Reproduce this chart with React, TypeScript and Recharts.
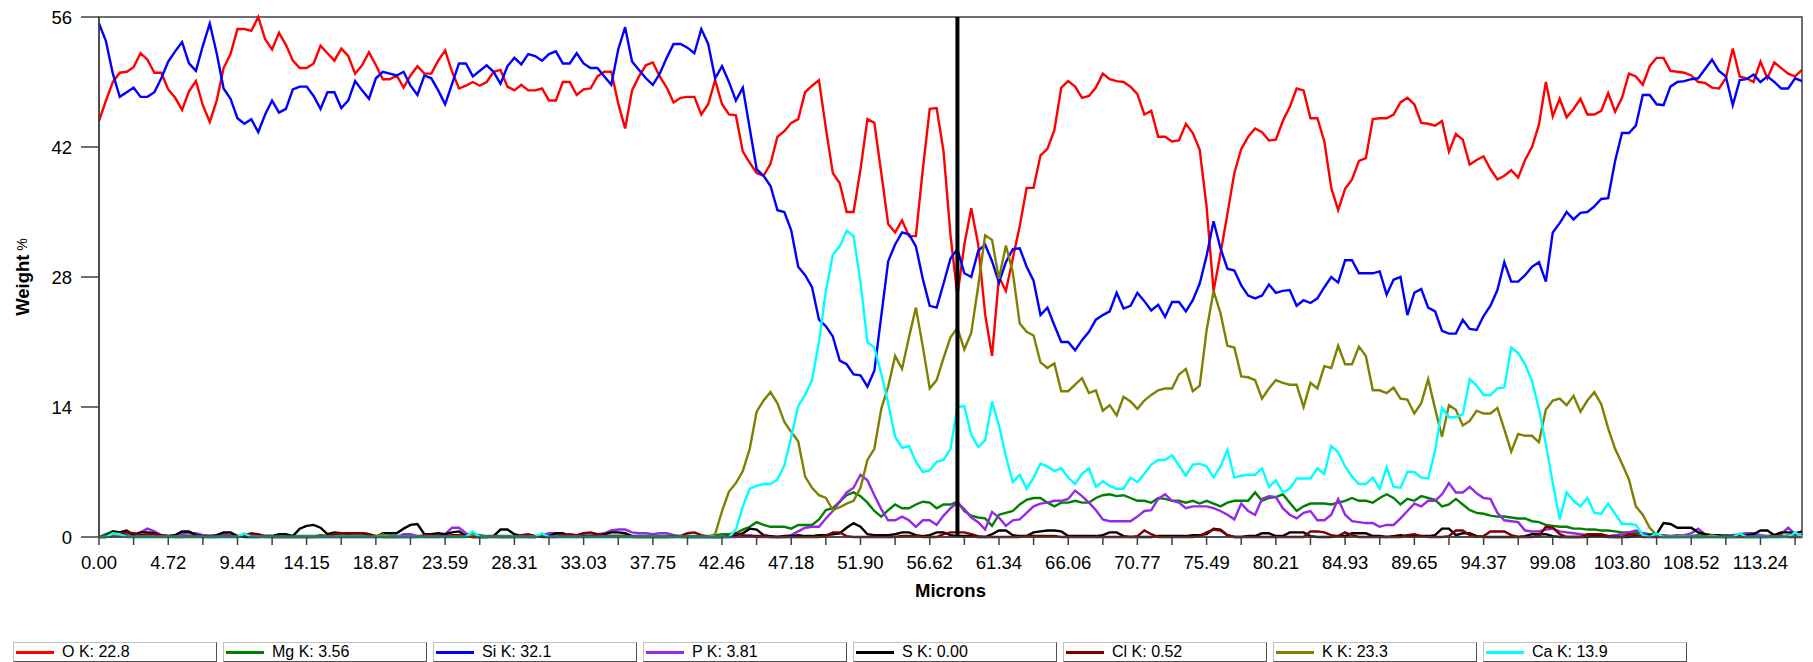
import React from "react";
import { LineChart, Line, XAxis, YAxis, ReferenceLine, ReferenceArea, Label } from "recharts";

// line scan: one sample every 0.47183 µm, 247 samples
const STEP = 0.47183;
const X_MAX = 116.07;
const CURSOR_INDEX = 124;

const X_LABELS = [
  "0.00", "4.72", "9.44", "14.15", "18.87", "23.59", "28.31", "33.03", "37.75", "42.46", "47.18", "51.90", "56.62",
  "61.34", "66.06", "70.77", "75.49", "80.21", "84.93", "89.65", "94.37", "99.08", "103.80", "108.52", "113.24",
];
const Y_TICKS = [0, 14, 28, 42, 56];

const O_K = [
  44.8, 47, 49, 50, 50.1, 50.6, 52.1, 51.4, 50, 50,
  48.2, 47.3, 46, 48, 49.1, 46.5, 44.7, 47, 50.5, 52,
  54.7, 54.7, 54.5, 56, 53.6, 52.5, 54.3, 53, 51.3, 50.5,
  50.5, 51, 52.9, 52.1, 51.3, 52.6, 51.8, 49.9, 50.8, 52.2,
  50.8, 49.3, 49.3, 49.7, 48.4, 49.7, 50.7, 49.9, 49.9, 51.3,
  52.4, 50.1, 48.3, 48.6, 49, 48.6, 49, 50.1, 50.3, 48.5,
  48.1, 48.7, 48.1, 48.1, 48.3, 47, 47, 49, 49, 47.6,
  48.2, 48.3, 49.6, 50.1, 50.1, 46.7, 44, 48.1, 49.6, 50.8,
  51.1, 49.6, 48.4, 46.8, 47.3, 47.4, 47.4, 45.5, 46.6, 49.2,
  46.6, 45.5, 45.4, 41.5, 40.3, 39.2, 38.9, 40.2, 43.1, 43.7,
  44.6, 45, 47.9, 48.6, 49.2, 44, 39.2, 38.1, 35, 35,
  39.6, 45, 44.6, 39.2, 33.7, 32.8, 34.1, 32.4, 32.4, 39.6,
  46.1, 46.2, 41.5, 32.5, 26, 31.5, 35.4, 31.5, 24, 19.5,
  28, 26.5, 30, 33.5, 37.6, 37.6, 41.1, 41.8, 43.8, 48.4,
  49.1, 48.5, 47.3, 47.5, 48.4, 49.9, 49.3, 49.1, 49, 48.5,
  47.7, 45.5, 45.9, 43.1, 43.1, 42.6, 42.7, 44.5, 43.5, 41.7,
  35.5, 26.5, 30.5, 34.8, 39.2, 41.8, 43.1, 44, 43.6, 42.7,
  42.8, 44.8, 46.3, 48.3, 48.1, 45.1, 45.1, 42.6, 37.6, 35.2,
  37.5, 38.5, 40.5, 40.8, 45, 45.1, 45.1, 45.5, 46.8, 47.3,
  46.6, 44.6, 44.5, 44.3, 44.8, 41.5, 43.4, 42.8, 40.1, 40.6,
  41, 39.6, 38.5, 38.9, 39.5, 38.7, 40.6, 42, 44.4, 49,
  45.3, 47.2, 45.2, 46.1, 47.2, 45.5, 45.5, 45.9, 47.8, 45.8,
  47.3, 49.9, 49.6, 48.7, 50.7, 51.6, 51.6, 50.2, 50.1, 50,
  49.7, 49, 48.9, 48.4, 48.3, 49.4, 52.6, 49.6, 49.4, 49,
  51.2, 49.4, 51.1, 50.5, 49.9, 49.6, 50.3,
];

const MG_K = [
  0, 0.3, 0.6, 0.5, 0.2, 0.1, 0.2, 0.1, 0.1, 0.1,
  0.1, 0.2, 0.2, 0.1, 0.1, 0.1, 0.1, 0.1, 0.1, 0.2,
  0.1, 0.1, 0.1, 0.1, 0.1, 0.1, 0.2, 0.1, 0.1, 0.1,
  0.1, 0.1, 0.2, 0.1, 0.1, 0.1, 0.2, 0.1, 0.1, 0.1,
  0.1, 0.1, 0.1, 0.1, 0.1, 0.1, 0.1, 0.1, 0.1, 0.1,
  0.1, 0.1, 0.1, 0.2, 0.3, 0.2, 0.1, 0.1, 0.1, 0.1,
  0.1, 0.1, 0.2, 0.1, 0.1, 0.1, 0.1, 0.1, 0.1, 0.1,
  0.1, 0.1, 0.1, 0.1, 0.1, 0.1, 0.1, 0.1, 0.1, 0.1,
  0.1, 0.1, 0.1, 0.1, 0.1, 0.1, 0.1, 0.1, 0.1, 0.2,
  0.3, 0.3, 0.4, 0.8, 1.1, 1.6, 1.3, 1.1, 1.1, 1.1,
  0.9, 1.3, 1.3, 1.3, 1.9, 2.9, 3.1, 3.8, 4.5, 4.8,
  4.4, 3.7, 2.8, 2.2, 2.9, 3.5, 3.1, 3.1, 3.5, 3.8,
  3.7, 3.1, 3.5, 3.5, 3.8, 2.8, 2.3, 2.1, 2, 1.2,
  2.4, 2.6, 2.8, 3.5, 4, 4.2, 4.2, 3.7, 3.3, 3.7,
  3.7, 3.9, 3.7, 3.7, 4.2, 4.5, 4.6, 4.4, 4.5, 4.2,
  3.9, 3.9, 3.7, 4.2, 4.1, 3.9, 3.9, 3.7, 3.9, 3.6,
  3.9, 3.6, 3.3, 3.7, 3.9, 3.9, 3.9, 4.8, 3.9, 4.2,
  4.3, 4.6, 3.7, 2.8, 3.3, 3.6, 3.6, 3.6, 3.5, 3.7,
  3.9, 4.2, 3.9, 3.9, 3.7, 4.2, 4.6, 4.2, 3.5, 4.1,
  3.9, 4.4, 4.2, 4, 3.3, 3.5, 4.1, 3.5, 2.9, 2.6,
  2.5, 2.3, 2.2, 2.2, 2.1, 2, 2, 1.7, 1.6, 1.3,
  1.2, 1.1, 1.1, 0.9, 0.9, 0.8, 0.8, 0.7, 0.7, 0.6,
  0.5, 0.5, 0.4, 0.4, 0.3, 0.2, 0.2, 0.1, 0.2, 0.1,
  0.1, 0.2, 0.1, 0.1, 0.1, 0.2, 0.1, 0.1, 0.1, 0.1,
  0.1, 0.1, 0.2, 0.1, 0.1, 0.1, 0.1,
];

const SI_K = [
  55.3, 53.4, 49.9, 47.4, 47.9, 48.4, 47.4, 47.4, 47.9, 49.4,
  51.2, 52.3, 53.3, 51, 50.2, 52.9, 55.3, 52.1, 48.3, 47.2,
  45.1, 44.5, 45, 43.6, 45.5, 47, 45.7, 46.1, 48.2, 48.5,
  48.5, 47.5, 46.1, 47.9, 47.9, 46.2, 47, 49.1, 48.1, 47.2,
  49.4, 50.1, 49.9, 49.7, 50.1, 48.6, 47.6, 49.7, 49.4, 48.1,
  46.6, 48.8, 51, 51, 49.6, 50.2, 50.8, 50.1, 48.8, 50.7,
  51.6, 50.9, 52, 51.8, 51.3, 52, 52.3, 51, 51, 52.1,
  51, 50.5, 50.5, 49.6, 48.7, 52.5, 54.9, 51.2, 50.3, 49.4,
  48.7, 49.9, 51.6, 53.1, 53.1, 52.7, 52.1, 54.7, 53.1, 49.4,
  50.7, 49, 47, 48.4, 44, 39.6, 38.9, 37.8, 35.2, 35,
  33, 29.1, 28.2, 26.9, 23.4, 22.7, 21.6, 19, 18.6, 17.5,
  17.4, 16.2, 17.9, 23.8, 29.7, 31.5, 32.8, 32.6, 31.3, 27.8,
  24.9, 24.7, 27.3, 30, 31, 28.4, 28, 30.8, 31.5, 29.7,
  27.4, 29.6, 31, 31.1, 29.1, 27.6, 23.9, 24.7, 22.8, 21,
  21, 20.1, 21.2, 22.1, 23.4, 23.9, 24.3, 26.3, 24.6, 24.9,
  26.3, 25.4, 24.4, 25, 23.7, 25.3, 25.3, 24.3, 25.5, 27.3,
  30.3, 34, 31.1, 28.9, 28.7, 27.1, 26, 25.7, 26, 27.2,
  26.3, 26.5, 26.6, 24.9, 25.5, 25.2, 25.7, 26.9, 28, 27.4,
  29.8, 29.8, 28.4, 28.4, 28.4, 28.6, 26.1, 27.7, 28, 23.9,
  26.3, 26.7, 24.7, 24.3, 22.2, 21.9, 21.9, 23.4, 22.4, 22.3,
  23.8, 24.9, 26.6, 29.6, 27.5, 27.5, 28.2, 29.1, 29.6, 27.5,
  32.8, 33.8, 35, 34.2, 34.9, 35, 35.6, 36.4, 36.5, 40.5,
  43.5, 43.5, 44.3, 47.6, 47.6, 46.6, 46.5, 48.5, 49, 49.1,
  49.3, 49.4, 50.4, 51.4, 50.2, 49.6, 46.5, 49.2, 49.3, 49.8,
  49, 49.6, 49, 48.3, 48.3, 49.4, 49.1,
];

const P_K = [
  0, 0, 0.1, 0.2, 0.4, 0.3, 0.5, 0.9, 0.6, 0.2,
  0.1, 0.1, 0.4, 0.4, 0.4, 0.2, 0.1, 0.1, 0.4, 0.2,
  0.1, 0.1, 0.3, 0.1, 0, 0, 0, 0, 0, 0,
  0, 0, 0, 0, 0, 0, 0, 0, 0, 0,
  0, 0, 0, 0, 0.3, 0.3, 0.1, 0, 0, 0,
  0.3, 1, 1, 0.4, 0.1, 0, 0, 0, 0, 0,
  0, 0, 0, 0, 0.2, 0.4, 0.4, 0.2, 0.1, 0.1,
  0.4, 0.4, 0.3, 0.4, 0.7, 0.8, 0.8, 0.5, 0.4, 0.4,
  0.3, 0.4, 0.4, 0.2, 0.1, 0, 0, 0, 0, 0,
  0, 0, 0, 0.1, 0.2, 0, 0, 0, 0, 0,
  0.2, 0.6, 1, 1.1, 1.1, 2, 2.8, 3.8, 4.8, 5.3,
  6.7, 6.1, 4.5, 3, 1.8, 1.8, 2.2, 1.8, 1.1, 1.8,
  1.8, 1.3, 2.3, 3.1, 3.7, 3, 2.1, 1.6, 0.8, 2.7,
  2.1, 1.2, 1.8, 1.9, 2.6, 3.3, 3.6, 3.7, 3.9, 3.9,
  4.1, 5, 4.4, 3.7, 2.9, 1.9, 1.7, 1.7, 1.7, 1.7,
  2.2, 2.8, 2.9, 4.1, 4.6, 3.9, 3.7, 3.1, 3.3, 3.3,
  3.3, 3.1, 2.8, 2.4, 1.9, 3.6, 2.8, 2.4, 4.1, 4.4,
  4.3, 3.1, 2.4, 2, 2.6, 2.8, 1.8, 1.8, 2.4, 4.1,
  2.4, 1.7, 1.6, 1.5, 1.5, 1.1, 1.3, 1.3, 2, 2.8,
  3.6, 3.3, 3.9, 3.9, 4.6, 5.8, 4.8, 4.8, 5.4, 4.7,
  4.2, 4.1, 2.6, 1.8, 1.7, 1.6, 0.7, 0.6, 0.6, 0.8,
  0.9, 0.6, 0.5, 0.4, 0.3, 0.2, 0.2, 0.1, 0.1, 0.2,
  0.3, 0.5, 0.7, 0.4, 0.2, 0.1, 0.1, 0.1, 0.1, 0.2,
  0.4, 0.9, 0.3, 0.1, 0.1, 0.1, 0.2, 0.3, 0.4, 0.4,
  0.2, 0.1, 0.1, 0.3, 1, 0.3, 0.2,
];

const S_K = [
  0, 0.1, 0.6, 0.5, 0.7, 0.2, 0.5, 0.5, 0.4, 0.1,
  0.1, 0.2, 0.6, 0.6, 0.2, 0.1, 0.1, 0.2, 0.5, 0.5,
  0.1, 0, 0, 0, 0.1, 0.1, 0.3, 0.3, 0.1, 0.9,
  1.2, 1.3, 1, 0.3, 0.5, 0.4, 0.4, 0.4, 0.4, 0.3,
  0, 0.4, 0.4, 0.4, 0.9, 1.3, 1.4, 0.3, 0.3, 0.4,
  0.3, 0.5, 0.6, 0.1, 0, 0, 0, 0.1, 0.8, 0.8,
  0.3, 0.1, 0, 0, 0.1, 0.1, 0.4, 0.4, 0.1, 0,
  0.1, 0.1, 0.2, 0.3, 0.5, 0.5, 0.4, 0.1, 0, 0,
  0, 0, 0, 0.1, 0, 0, 0, 0, 0, 0,
  0, 0.1, 0.2, 0.4, 0.9, 0.8, 0.2, 0.1, 0, 0.1,
  0.1, 0.2, 0.1, 0.1, 0.2, 0.2, 0.3, 0.4, 1, 1.5,
  1.1, 0.3, 0.2, 0.2, 0.2, 0.3, 0.5, 0.5, 0.2, 0.1,
  0.2, 0.5, 0.5, 0.2, 0.1, 0.1, 0.1, 0, 0, 0.3,
  0.7, 0.7, 0.2, 0.1, 0.1, 0.5, 0.6, 0.7, 0.7, 0.6,
  0.1, 0.1, 0.1, 0.1, 0.1, 0.2, 0.5, 0.5, 0.1, 0,
  0, 0, 0, 0.1, 0.1, 0.1, 0.1, 0.1, 0.2, 0.2,
  0.3, 0.9, 0.8, 0.2, 0, 0, 0.1, 0.1, 0.4, 0.4,
  0.1, 0.1, 0.5, 0.5, 0.5, 0.1, 0, 0, 0, 0.1,
  0.1, 0.4, 0.4, 0.4, 0.1, 0.1, 0, 0.1, 0.2, 0.1,
  0.1, 0.1, 0.1, 0.2, 0.9, 0.9, 0.2, 0.4, 0.4, 0.1,
  0, 0, 0, 0, 0, 0, 0.1, 0.3, 0.3, 0.3,
  0.1, 0, 0, 0, 0, 0, 0.1, 0.1, 0, 0,
  0, 0, 0.1, 0.1, 0.2, 0.3, 1.5, 1.4, 1, 1,
  1, 0.5, 0.3, 0.2, 0.2, 0.1, 0.1, 0.1, 0.2, 0.3,
  0.7, 0.7, 0.2, 0.5, 0.5, 0.4, 0.6,
];

const CL_K = [
  0, 0, 0.2, 0.4, 0.5, 0.4, 0.2, 0.3, 0.3, 0.2,
  0.1, 0, 0, 0.1, 0.1, 0, 0, 0, 0.1, 0.1,
  0, 0.2, 0.4, 0.3, 0.1, 0, 0, 0, 0, 0,
  0, 0, 0.1, 0.1, 0.3, 0.4, 0.4, 0.4, 0.4, 0.3,
  0.1, 0, 0, 0, 0, 0, 0, 0.2, 0.2, 0.1,
  0.1, 0.2, 0.2, 0.1, 0, 0, 0, 0.1, 0, 0,
  0, 0.2, 0.3, 0.1, 0, 0, 0, 0.2, 0.3, 0.2,
  0.4, 0.5, 0.3, 0.1, 0.1, 0.1, 0.1, 0, 0, 0,
  0, 0, 0, 0, 0.1, 0.4, 0.5, 0.2, 0, 0,
  0, 0, 0.4, 0.2, 0.1, 0.1, 0.1, 0, 0, 0,
  0, 0, 0, 0, 0, 0.1, 0.5, 0.5, 0.1, 0,
  0, 0, 0, 0, 0, 0, 0.1, 0.1, 0.1, 0,
  0, 0, 0.3, 0.5, 0.5, 0.5, 0.3, 0.1, 0, 0,
  0, 0, 0, 0, 0.1, 0.1, 0.1, 0.1, 0.1, 0,
  0, 0, 0, 0, 0, 0, 0, 0, 0, 0,
  0.1, 0.7, 0.3, 0, 0, 0, 0, 0, 0, 0.1,
  0.5, 0.8, 0.7, 0.2, 0, 0, 0, 0, 0, 0,
  0, 0, 0, 0, 0, 0.6, 0.6, 0.5, 0.2, 0.1,
  0.5, 0.2, 0, 0, 0, 0, 0, 0, 0, 0.2,
  0.3, 0.1, 0, 0, 0, 0.1, 0.7, 0.7, 0.2, 0,
  0.1, 0.6, 0.6, 0.6, 0.2, 0, 0, 0, 0.1, 1.1,
  1, 0.3, 0, 0, 0, 0.3, 0.3, 0.3, 0.1, 0,
  0, 0.3, 0.2, 0, 0, 0, 0, 0, 0, 0,
  0, 0, 0, 0, 0, 0, 0, 0, 0, 0,
  0, 0, 0.1, 0.1, 0, 0, 0,
];

const K_K = [
  0, 0, 0.3, 0.2, 0, 0, 0, 0, 0, 0,
  0, 0, 0, 0, 0, 0, 0, 0, 0, 0,
  0, 0.3, 0, 0, 0, 0, 0, 0, 0, 0,
  0, 0, 0, 0, 0, 0, 0, 0, 0, 0,
  0, 0.3, 0, 0, 0, 0, 0, 0, 0, 0,
  0, 0, 0, 0, 0.3, 0, 0, 0, 0, 0,
  0, 0, 0, 0, 0.3, 0, 0, 0, 0, 0,
  0, 0, 0, 0, 0, 0, 0, 0, 0, 0,
  0, 0, 0, 0, 0, 0, 0, 0, 0, 0.3,
  2.8, 4.9, 5.8, 7.1, 9.5, 13.5, 14.7, 15.6, 14.4, 12.4,
  11.3, 10.3, 6.5, 5.3, 4.5, 4.2, 2.9, 3.2, 3.6, 3.9,
  5.3, 8.3, 9.5, 13.8, 16.2, 19.5, 18.1, 21.5, 24.7, 20.5,
  16, 16.9, 19.3, 21.5, 22.5, 20.2, 22, 27, 32.5, 32,
  27.8, 31.4, 28.5, 23, 22.1, 21.7, 18.8, 18.2, 18.7, 15.7,
  15.7, 16.4, 17.1, 15.5, 15.8, 13.6, 14.2, 13.1, 15.1, 14.6,
  13.8, 14.7, 15.3, 15.8, 16, 16, 17.5, 18.1, 15.7, 16.3,
  22.3, 26.5, 24.1, 20.6, 20.4, 17.3, 17.2, 16.9, 14.9, 16,
  16.9, 16.6, 16.4, 16.4, 14, 16.6, 16, 18.4, 18.2, 20.6,
  18.6, 18.6, 20.5, 19.5, 15.8, 15.8, 15.5, 16.1, 14.9, 14.8,
  13.3, 14.4, 17, 13.8, 10.8, 14.2, 13.7, 12, 12.5, 13.6,
  13.3, 13.3, 13.9, 11.6, 9.2, 11.1, 10.9, 10.9, 10.2, 13.7,
  14.7, 14.9, 14.2, 15.2, 13.5, 14.7, 15.6, 14.3, 11.7, 9.5,
  7.9, 6.2, 3.3, 2.4, 1, 0.2, 0, 0, 0, 0.1,
  0, 0, 0, 0.2, 0, 0, 0, 0, 0, 0,
  0, 0, 0, 0, 0.2, 0, 0.1,
];

const CA_K = [
  0, 0, 0.4, 0.3, 0, 0, 0, 0, 0, 0,
  0, 0, 0, 0, 0, 0, 0, 0, 0, 0,
  0, 0.4, 0, 0, 0, 0, 0, 0, 0, 0,
  0, 0, 0, 0, 0, 0, 0, 0, 0, 0,
  0, 0, 0, 0, 0, 0, 0, 0, 0, 0,
  0, 0, 0, 0, 0.6, 0, 0, 0, 0, 0,
  0, 0, 0, 0, 0.4, 0, 0, 0, 0, 0,
  0, 0, 0, 0, 0, 0, 0, 0, 0, 0,
  0, 0, 0, 0, 0, 0, 0, 0, 0, 0,
  0, 0, 0.8, 3.3, 5.2, 5.5, 5.7, 5.7, 6.2, 7.7,
  10.8, 14.1, 15.3, 16.9, 21, 26.5, 30.4, 31.3, 33, 32.4,
  27.4, 21, 20.4, 17.6, 14.4, 10.8, 9.6, 9.8, 8.1, 7,
  7.2, 8.1, 8.3, 9.5, 14, 14.1, 11, 9.7, 10.4, 14.6,
  12, 8.7, 5.9, 6.7, 5.2, 6.4, 7.9, 7.6, 7.1, 7.4,
  6.4, 5.7, 6.8, 7.4, 5.4, 6, 5.5, 5.2, 5.2, 6.4,
  5.9, 6.8, 7.8, 8.3, 8.3, 8.8, 7.7, 6.6, 7.8, 7.9,
  7.6, 6.4, 7.6, 9.4, 6.4, 6.6, 6.7, 6.7, 7.4, 5.4,
  6.1, 4.8, 5.2, 6.3, 6.3, 6.3, 7.4, 6.8, 9.8, 9.1,
  7.6, 6.5, 5.7, 5.7, 6.4, 5.2, 7.5, 5.4, 5.3, 7,
  7, 6.4, 6.3, 9.3, 13.9, 12.9, 12.9, 13.2, 17, 16.3,
  15.3, 15.3, 16, 16.1, 20.4, 19.8, 18.6, 16.8, 13.8, 10,
  5.8, 1.9, 4.8, 3.9, 3.3, 4.2, 2.6, 2.5, 3.6, 2.5,
  1.4, 1.4, 1.3, 0.2, 0, 0.4, 0, 0, 0, 0,
  0, 0, 0, 0, 0, 0, 0, 0.4, 0, 0,
  0, 0, 0, 0, 0, 0.5, 0,
];

const SERIES = [
  { key: "o", name: "O K", total: "22.8", color: "#ff0000", values: O_K },
  { key: "mg", name: "Mg K", total: "3.56", color: "#008000", values: MG_K },
  { key: "si", name: "Si K", total: "32.1", color: "#0000ff", values: SI_K },
  { key: "p", name: "P K", total: "3.81", color: "#9628e6", values: P_K },
  { key: "s", name: "S K", total: "0.00", color: "#000000", values: S_K },
  { key: "cl", name: "Cl K", total: "0.52", color: "#800000", values: CL_K },
  { key: "k", name: "K K", total: "23.3", color: "#808000", values: K_K },
  { key: "ca", name: "Ca K", total: "13.9", color: "#00ffff", values: CA_K },
];

const data = O_K.map((_, i) => {
  const row: Record<string, number> = { x: i * STEP };
  SERIES.forEach((s) => {
    row[s.key] = s.values[i];
  });
  return row;
});

// labelled ticks plus an unlabelled one halfway to the next
const xTicks: number[] = [];
X_LABELS.forEach((l) => {
  const v = parseFloat(l);
  xTicks.push(v);
  xTicks.push(v + STEP * 5);
});

const FONT = '"Liberation Sans", Arial, sans-serif';
const AXIS = "#404040";

function WeightLabel(props: any) {
  const vb = props.viewBox || { x: 0, y: 0, width: 0, height: 0 };
  const cx = vb.x + 22;
  const cy = vb.y + vb.height / 2;
  return (
    <text x={cx} y={cy} transform={`rotate(-90 ${cx} ${cy})`} textAnchor="middle" dominantBaseline="central" fontFamily={FONT} fill="#000">
      <tspan fontWeight="bold" fontSize={18.5}>Weight</tspan>
      <tspan fontSize={14}> %</tspan>
    </text>
  );
}

function LegendBox({ s, left }: { s: (typeof SERIES)[number]; left: number }) {
  return (
    <div
      style={{
        position: "absolute",
        left,
        top: 642,
        width: 202,
        height: 18,
        background: "#fff",
        borderTop: "1px solid #c0c0c0",
        borderLeft: "1px solid #c0c0c0",
        borderRight: "1px solid #505050",
        borderBottom: "1px solid #505050",
        display: "flex",
        alignItems: "center",
        fontSize: 16,
        color: "#000",
        whiteSpace: "nowrap",
      }}
    >
      <span style={{ display: "inline-block", marginLeft: 2, width: 38, height: 3, background: s.color }} />
      <span style={{ marginLeft: 8 }}>
        {s.name}: {s.total}
      </span>
    </div>
  );
}

export default function App() {
  return (
    <div style={{ position: "absolute", left: 0, top: 0, width: 1813, height: 662, background: "#fff", fontFamily: FONT }}>
      <LineChart width={1813} height={620} data={data} margin={{ top: 17, right: 11, bottom: 19, left: 0 }}>
        <XAxis
          dataKey="x"
          type="number"
          domain={[0, X_MAX]}
          ticks={xTicks}
          interval={0}
          tickSize={8}
          tickMargin={11}
          height={64}
          stroke={AXIS}
          strokeWidth={1.5}
          tick={{ fontSize: 18.5, fill: "#000", fontFamily: FONT }}
          tickFormatter={(v: number) => (X_LABELS.includes(v.toFixed(2)) ? v.toFixed(2) : "")}
        >
          <Label value="Microns" position="insideBottom" offset={4} style={{ fontWeight: "bold", fontSize: 18.5, fill: "#000", fontFamily: FONT }} />
        </XAxis>
        <YAxis
          type="number"
          domain={[0, 56]}
          ticks={Y_TICKS}
          interval={0}
          width={99}
          tickSize={18}
          tickMargin={9}
          stroke={AXIS}
          strokeWidth={1.5}
          tick={{ fontSize: 18.5, fill: "#000", fontFamily: FONT }}
        >
          <Label content={WeightLabel} />
        </YAxis>
        <ReferenceArea x1={0} x2={X_MAX} y1={0} y2={56} fill="none" stroke={AXIS} strokeWidth={1.5} ifOverflow="visible" />
        {SERIES.map((s) => (
          <Line
            key={s.key}
            dataKey={s.key}
            name={s.name}
            type="linear"
            stroke={s.color}
            strokeWidth={2.4}
            dot={false}
            activeDot={false}
            isAnimationActive={false}
          />
        ))}
        <ReferenceLine x={CURSOR_INDEX * STEP} stroke="#000" strokeWidth={4} ifOverflow="visible" />
      </LineChart>
      {SERIES.map((s, k) => (
        <LegendBox key={s.key} s={s} left={13 + k * 210} />
      ))}
    </div>
  );
}
